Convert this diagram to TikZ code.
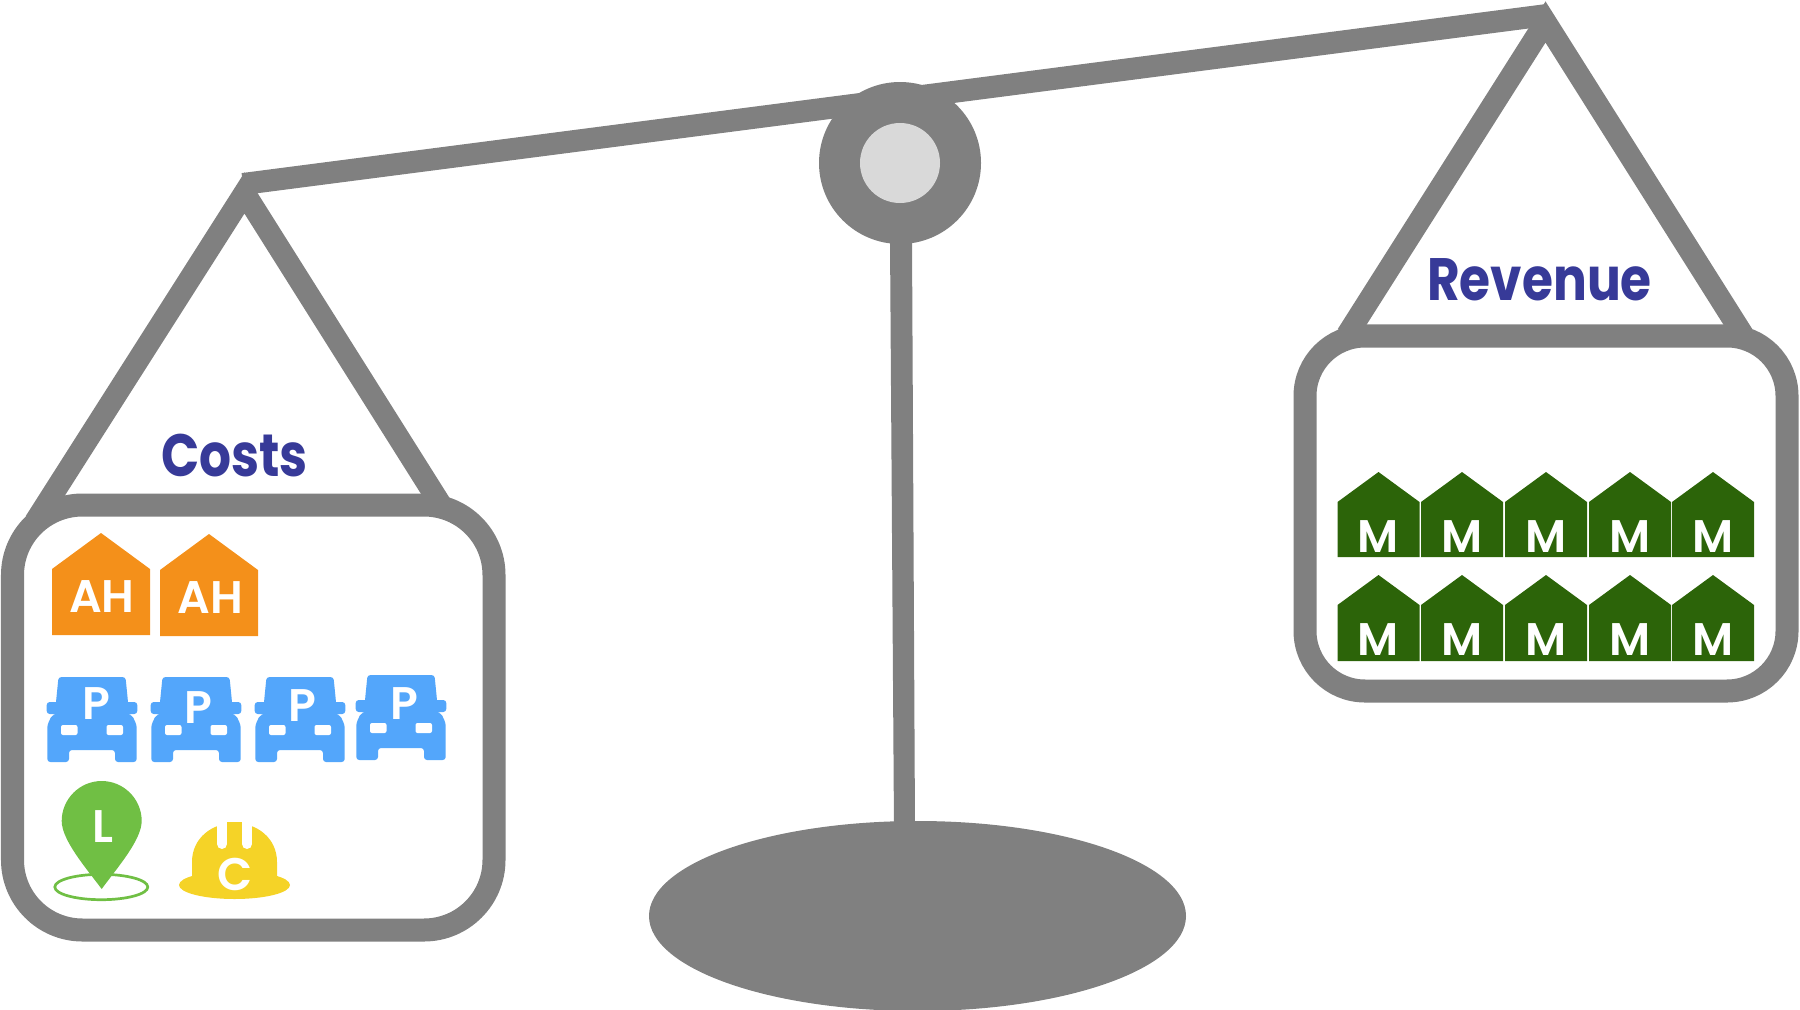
\documentclass[tikz,border=0pt]{standalone}
\usepackage{fontspec}
\setmainfont{Poppins}
\newfontfamily\titlefont[FakeStretch=0.84]{Poppins}
\newfontfamily\tagfont{Poppins SemiBold}
\usetikzlibrary{calc, positioning}
\definecolor{scaleGrey}{HTML}{808080}
\definecolor{hubGrey}{HTML}{D9D9D9}
\definecolor{titleBlue}{HTML}{373A98}
\definecolor{ahOrange}{HTML}{F4901A}
\definecolor{mGreen}{HTML}{2C6409}
\definecolor{pBlue}{HTML}{53A6FB}
\definecolor{lGreen}{HTML}{70BF44}
\definecolor{cYellow}{HTML}{F5D327}
\tikzset{
  scaleline/.style = {scaleGrey, line width=2.2mm, line join=miter},
  panline/.style   = {scaleGrey, line width=2.3mm},
  title/.style     = {titleBlue, inner sep=0pt, font=\fontsize{17}{17}\titlefont\bfseries},
  tag/.style       = {white, inner sep=0pt, font=\fontsize{13}{13}\tagfont},
}
\begin{document}
\begin{tikzpicture}[x=0.01cm, y=-0.01cm]
\newcommand{\house}[6]{% centre x, half width, apex y, shoulder y, bottom y, colour
  \fill[#6] (#1-#2,#4) -- (#1,#3) -- (#1+#2,#4) -- (#1+#2,#5) -- (#1-#2,#5) -- cycle;}
\newcommand{\car}[2]{% centre x, top y
  \begin{scope}[shift={(#1,#2)}]
    \fill[pBlue, rounded corners=0.3mm] (-33.5,0) -- (33.5,0) -- (36,25) -- (36,38) -- (40,38)
      -- (44.7,48) -- (44.7,85) -- (23,85) -- (23,73) -- (-23,73) -- (-23,85) -- (-44.7,85) -- (-44.7,48)
      -- (-40,38) -- (-36,38) -- (-36,25) -- cycle;
    \fill[pBlue, rounded corners=0.3mm] (-45.3,25) rectangle (45.3,37);
    \fill[white, rounded corners=0.2mm] (-31,48) rectangle (-14.5,58);
    \fill[white, rounded corners=0.2mm] (14.5,48) rectangle (31,58);
  \end{scope}}
\useasboundingbox (0,0) rectangle (1800,1009);
% stand
\fill[scaleGrey] (917.5,916) ellipse (268.5 and 95);
\fill[scaleGrey] (890,240) -- (912,240) -- (915,830) -- (894,830) -- cycle;
% beam and hangers
\draw[scaleline] (243,184) -- (1547,15);
\draw[scaleline] (35,522) -- (244.5,193) -- (441,505);
\draw[scaleline] (1347,335) -- (1545.5,22) -- (1743,335);
% hub
\fill[scaleGrey] (900,163) circle (81);
\fill[hubGrey] (900,163) circle (40);
% pans
\draw[panline, rounded corners=7mm] (12.5,505) rectangle (494,930);
\draw[panline, rounded corners=6mm] (1305,336) rectangle (1787,691);
\node[title] (costs) at (234.5,456) {Costs};
\node[title] (revenue) at (1539.5,280) {Revenue};
% cost items
\house{101}{49}{533}{569}{635}{ahOrange}
\house{209}{49}{534}{570}{636}{ahOrange}
\node[tag] (ah1) at (102,597) {AH};
\node[tag] (ah2) at (210.3,598) {AH};
\foreach \cx/\cy/\px/\py/\i in {92/677/96.7/704/1, 196/677/198.8/708/2, 300/677/302.5/706/3, 401/675/404/704/4}{
  \car{\cx}{\cy}
  \node[tag] (p\i) at (\px,\py) {P};
}
\draw[lGreen, line width=0.27mm] (101.3,887) ellipse (46.5 and 12.7);
\fill[lGreen] (101.7,889) .. controls (86,868) and (61.7,840) .. (61.7,821)
  .. controls (61.7,799) and (79.7,781) .. (101.7,781)
  .. controls (123.7,781) and (141.7,799) .. (141.7,821)
  .. controls (141.7,840) and (117,868) .. cycle;
\node[tag] (land) at (103,827) {L};
\fill[cYellow] (234.5,885) ellipse (55.5 and 14);
\fill[cYellow] (192,880) -- (192,862) .. controls (192,838) and (212,823) .. (234.5,823)
  .. controls (257,823) and (277,838) .. (277,862) -- (277,880) -- cycle;
\draw[white, line width=1mm, line cap=round] (222,815) -- (222,844);
\draw[white, line width=1mm, line cap=round] (247,815) -- (247,844);
\fill[cYellow] (227,822) rectangle (242,830);
\node[tag] (cons) at (235,874) {C};
% revenue items
\foreach \x [count=\i] in {1378.5, 1462, 1546, 1630, 1713}{
  \house{\x}{41}{472}{502}{557}{mGreen}
  \house{\x}{41}{575}{605}{661}{mGreen}
  \node[tag] (ma\i) at (\x,536.5) {M};
  \node[tag] (mb\i) at (\x,639.5) {M};
}
\end{tikzpicture}
\end{document}
